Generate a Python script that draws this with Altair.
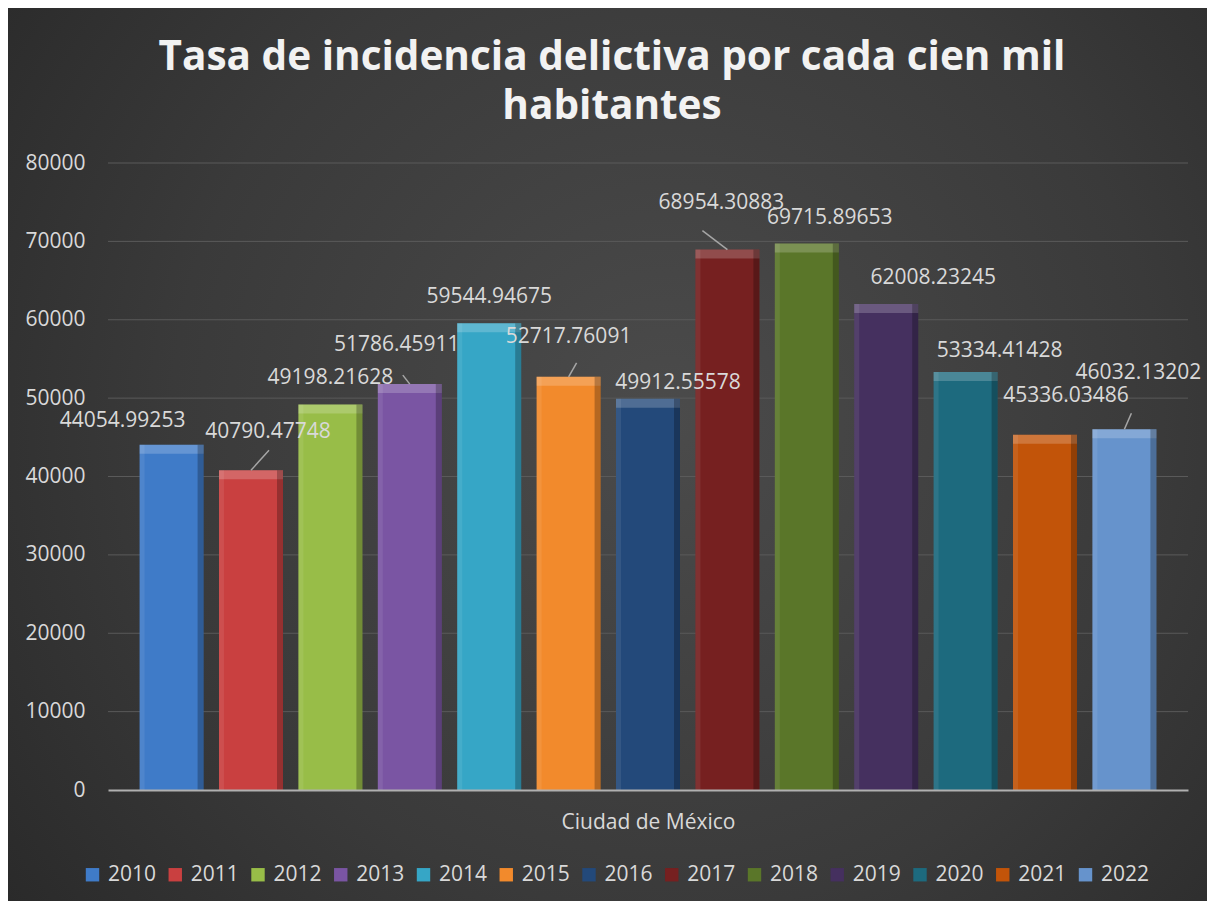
import altair as alt
import pandas as pd

years = ["2010", "2011", "2012", "2013", "2014", "2015", "2016",
         "2017", "2018", "2019", "2020", "2021", "2022"]
values = [44054.99253, 40790.47748, 49198.21628, 51786.45911, 59544.94675,
          52717.76091, 49912.55578, 68954.30883, 69715.89653, 62008.23245,
          53334.41428, 45336.03486, 46032.13202]
colors = ["#3f7bc8", "#c94040", "#98bd48", "#7a55a3", "#36a6c6", "#f28a2c",
          "#23497a", "#762020", "#5a7629", "#45305f", "#1d6a7e", "#c25409",
          "#6693cc"]
y_ticks = [0, 10000, 20000, 30000, 40000, 50000, 60000, 70000, 80000]
category = "Ciudad de México"
title_lines = ["Tasa de incidencia delictiva por cada cien mil", "habitantes"]

# label placement (pixel offsets from the bar top) - styling only
label_offsets = [(-49, -24), (17, -38), (0, -26), (-13, -39), (0, -26), (0, -40),
                 (30, -16), (-6, -47), (23, -26), (47, -26), (34, -21), (21, -39),
                 (14, -56)]
leader_offsets = {"2011": (18, -20), "2013": (-7, -9), "2015": (8, -14),
                  "2017": (-25, -19), "2022": (7, -16)}

df = pd.DataFrame({"year": years, "value": values})
grid_df = pd.DataFrame({"tick": y_ticks[1:]})

FONT = "Open Sans"
W, H = 1080, 627

xenc = alt.X("year:N", sort=years,
             scale=alt.Scale(paddingInner=0.194, paddingOuter=0.398),
             axis=alt.Axis(labels=False, ticks=False, domain=True,
                           domainColor="#b0b0b0", domainWidth=2, zindex=1,
                           title=category, titleFont=FONT, titleFontSize=21,
                           titleFontWeight="normal", titleColor="#d9d9d9",
                           titlePadding=21))
yscale = alt.Scale(domain=[0, 80000], nice=False)
yaxis = alt.Axis(values=y_ticks, format="d", title=None, domain=False, ticks=False,
                 grid=False, zindex=1,
                 labelFont=FONT, labelFontSize=21, labelColor="#d9d9d9",
                 labelPadding=23)

base = alt.Chart(df)

bg = alt.Chart(pd.DataFrame({"a": [0]})).mark_rect(
    fill=alt.Gradient(gradient="radial",
                      stops=[alt.GradientStop(color="#4b4b4b", offset=0),
                             alt.GradientStop(color="#3a3a3a", offset=0.55),
                             alt.GradientStop(color="#262626", offset=1)],
                      x1=0.55, y1=0.47, x2=0.55, y2=0.47, r1=0, r2=0.75)
).encode(x=alt.value(-100), x2=alt.value(1099), y=alt.value(-155), y2=alt.value(738))

grid = alt.Chart(grid_df).mark_rule(color="#5a5a5a", strokeWidth=1).encode(
    y=alt.Y("tick:Q", scale=yscale, axis=yaxis))

main = base.mark_bar().encode(
    x=xenc, y=alt.Y("value:Q", scale=yscale, axis=yaxis),
    color=alt.Color("year:N", sort=years,
                    scale=alt.Scale(domain=years, range=colors),
                    legend=alt.Legend(title=None, orient="none", direction="horizontal",
                                      columns=13, legendX=-26, legendY=701,
                                      symbolType="square", symbolSize=180,
                                      symbolStrokeWidth=0, symbolOpacity=1,
                                      labelFont=FONT, labelFontSize=21,
                                      labelColor="#d9d9d9", labelOffset=5,
                                      columnPadding=7.75)))

top = base.mark_bar(fill="white", fillOpacity=0.2, y2Offset=9).encode(
    x=alt.X("year:N", sort=years), y=alt.Y("value:Q", scale=yscale), y2="value:Q")
right = base.mark_bar(fill="black", fillOpacity=0.25, width=6, xOffset=29).encode(
    x=alt.X("year:N", sort=years), y=alt.Y("value:Q", scale=yscale))
left = base.mark_bar(fill="white", fillOpacity=0.08, width=5, xOffset=-29.5).encode(
    x=alt.X("year:N", sort=years), y=alt.Y("value:Q", scale=yscale))

title_layers = []
for line, yy in zip(title_lines, [-105, -56]):
    title_layers.append(
        alt.Chart(pd.DataFrame({"t": [line]})).mark_text(
            font=FONT, fontSize=40.5, fontWeight="bold", color="#f2f2f2",
            align="center", baseline="middle"
        ).encode(x=alt.value(504), y=alt.value(yy), text="t:N"))

layers = [bg, grid, main, top, right, left] + title_layers

for yr, (dx, dy) in leader_offsets.items():
    layers.append(
        base.transform_filter(alt.datum.year == yr).mark_rule(
            color="#a6a6a6", strokeWidth=1.5, x2Offset=dx, y2Offset=dy
        ).encode(x=alt.X("year:N", sort=years), x2="year:N",
                 y=alt.Y("value:Q", scale=yscale), y2="value:Q"))

for yr, (dx, dy) in zip(years, label_offsets):
    layers.append(
        base.transform_filter(alt.datum.year == yr).mark_text(
            font=FONT, fontSize=21, color="#d9d9d9", dx=dx, dy=dy,
            baseline="middle", align="center"
        ).encode(x=alt.X("year:N", sort=years), y=alt.Y("value:Q", scale=yscale),
                 text=alt.Text("value:Q", format=".5f")))

chart = alt.layer(*layers).properties(
    width=W, height=H,
    autosize=alt.AutoSizeParams(type="none"),
    padding={"left": 100, "top": 155, "right": 19, "bottom": 111},
    background="#2e2e2e",
).configure_view(stroke=None)

chart.save("out.html", embed_options={"renderer": "svg", "actions": False})
